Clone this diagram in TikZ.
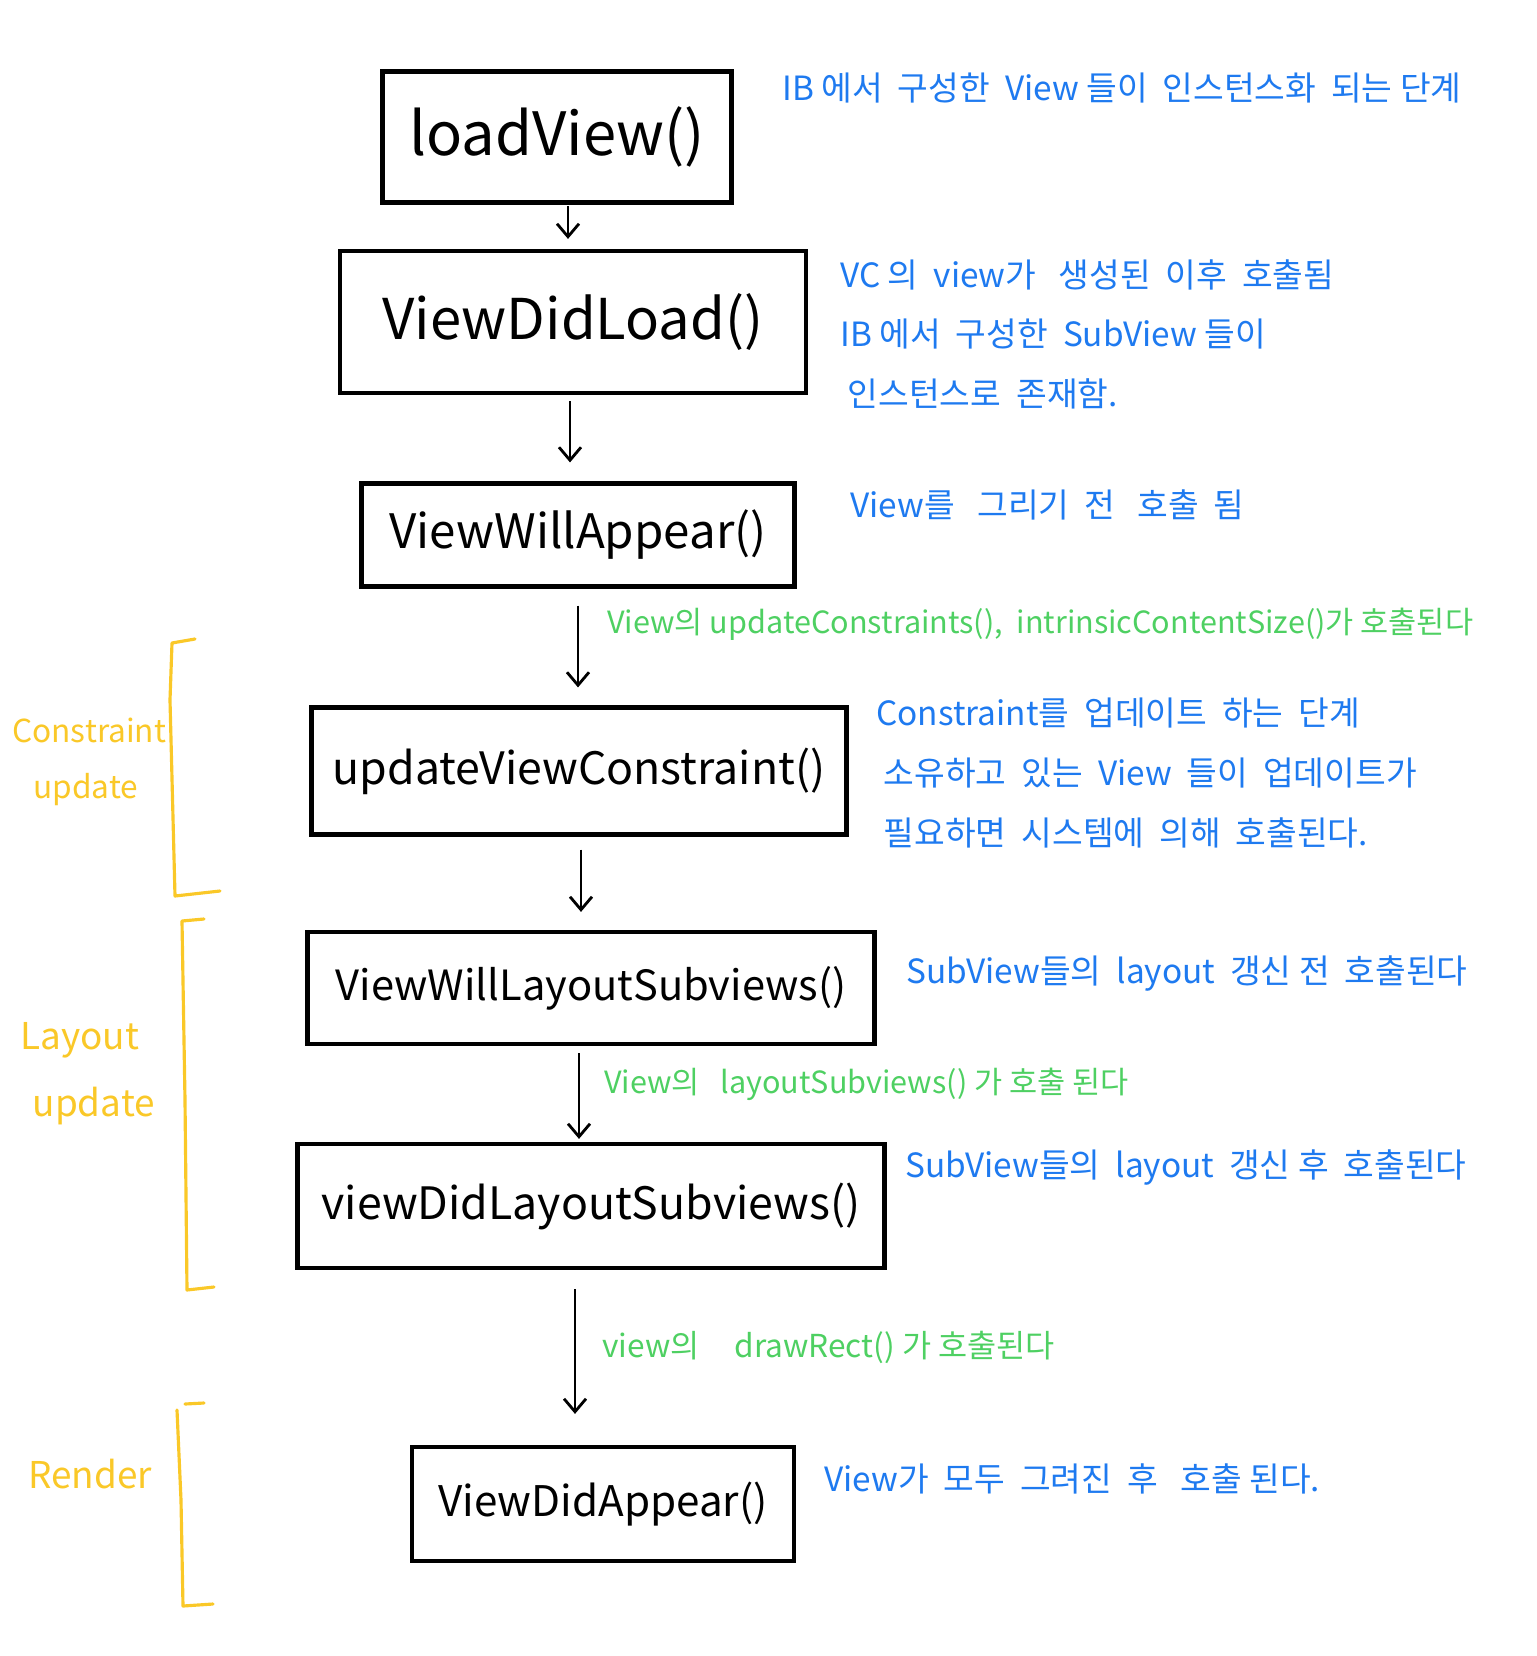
\documentclass[tikz,border=0pt]{standalone}
\usepackage{fontspec}
\setmainfont{Noto Sans CJK KR}
\usetikzlibrary{arrows.meta,calc}
\definecolor{noteblue}{RGB}{30,122,240}
\definecolor{notegreen}{RGB}{78,208,98}
\definecolor{noteyellow}{RGB}{250,200,40}
\tikzset{
  stage/.style={draw=black, line width=2.4pt, inner sep=0pt},
  fs/.style={font=\fontsize{#1}{#1}\selectfont},
  flow/.style={line width=1.6pt, -{Straight Barb[length=2.6mm,width=4.4mm,line width=1.6pt]}},
  bluenote/.style={text=noteblue, anchor=west, inner sep=0pt, font=\fontsize{19}{34}\selectfont, align=left},
  greennote/.style={text=notegreen, anchor=west, inner sep=0pt, font=\fontsize{17.4}{22}\selectfont},
  phase/.style={text=noteyellow, anchor=west, inner sep=0pt, font=\fontsize{21}{30}\selectfont, align=left},
  bracket/.style={draw=noteyellow, line width=1.8pt, line cap=round, line join=round}
}
\begin{document}
\begin{tikzpicture}[x=0.02cm,y=-0.02cm]
\path[use as bounding box, fill=white] (0,0) rectangle (1536,1656);

% stage boxes
\node[stage, fs=34, minimum width=349*0.02cm, minimum height=131*0.02cm] (b1) at (557,137) {loadView()};
\node[stage, fs=32, minimum width=466*0.02cm, minimum height=142*0.02cm] (b2) at (573,322) {ViewDidLoad()};
\node[stage, fs=27, minimum width=433*0.02cm, minimum height=103*0.02cm] (b3) at (578,535) {ViewWillAppear()};
\node[stage, fs=25.4, minimum width=535*0.02cm, minimum height=127*0.02cm] (b4) at (579,771) {updateViewConstraint()};
\node[stage, fs=23.7, minimum width=567*0.02cm, minimum height=112*0.02cm] (b5) at (591,988) {ViewWillLayoutSubviews()};
\node[stage, fs=25.4, minimum width=587*0.02cm, minimum height=124*0.02cm] (b6) at (591,1206) {viewDidLayoutSubviews()};
\node[stage, fs=24, minimum width=382*0.02cm, minimum height=114*0.02cm] (b7) at (603,1504) {ViewDidAppear()};

% connectors
\draw[flow, shorten <=1pt, shorten >=0.2cm] ([xshift=0.22cm]b1.south) -- ([xshift=0.22cm]b1.south |- b2.north);
\draw[flow, shorten <=0.12cm, shorten >=0.38cm] ([xshift=-0.06cm]b2.south) -- ([xshift=-0.06cm]b2.south |- b3.north);
\draw[flow, shorten <=0.34cm, shorten >=0.36cm] ([xshift=0cm]b3.south) -- ([xshift=0cm]b3.south |- b4.north);
\draw[flow, shorten <=0.26cm, shorten >=0.36cm] ([xshift=0.04cm]b4.south) -- ([xshift=0.04cm]b4.south |- b5.north);
\draw[flow, shorten <=0.14cm, shorten >=0.06cm] ([xshift=-0.24cm]b5.south) -- ([xshift=-0.24cm]b5.south |- b6.north);
\draw[flow, shorten <=0.38cm, shorten >=0.62cm] ([xshift=-0.32cm]b6.south) -- ([xshift=-0.32cm]b6.south |- b7.north);

% blue notes
\node[bluenote] (n1) at (782,88) {IB 에서\ \ 구성한\ \ View 들이\ \ 인스턴스화\ \ 되는 단계};
\node[bluenote, anchor=north west] (n2) at (840,259) {VC 의\ \ view가\ \ \ 생성된\ \ 이후\ \ 호출됨\\IB 에서\ \ 구성한\ \ SubView 들이\\\ 인스턴스로\ \ 존재함.};
\node[bluenote] (n3) at (850,505) {View를\ \ \ 그리기\ \ 전\ \ \ 호출\ \ 됨};
\node[bluenote, anchor=north west] (n4) at (876,698) {Constraint를\ \ 업데이트\ \ 하는\ \ 단계\\\ 소유하고\ \ 있는\ \ View\ \ 들이\ \ 업데이트가\\\ 필요하면\ \ 시스템에\ \ 의해\ \ 호출된다.};
\node[bluenote] (n5) at (906,974) {SubView들의\ \ layout\ \ 갱신 전\ \ 호출된다};
\node[bluenote] (n6) at (905,1168) {SubView들의\ \ layout\ \ 갱신 후\ \ 호출된다};
\node[bluenote] (n7) at (824,1479) {View가\ \ 모두\ \ 그려진\ \ 후\ \ \ 호출 된다.};

% green notes
\node[greennote] (g1) at (607,624) {View의\ updateConstraints(),\ \ intrinsicContentSize()가 호출된다};
\node[greennote] (g2) at (604,1084) {View의\ \ \ layoutSubviews() 가 호출 된다};
\node[greennote, fs=18] (g3) at (602,1347) {view의\hspace{1.1em}drawRect()\ 가\ 호출된다};

% phase brackets
\draw[bracket] (195,639) -- (172,643) -- (170,700) -- (175,896) -- (220,891);
\draw[bracket] (204,919) -- (182,921) -- (185,1100) -- (187,1290) -- (214,1287);
\draw[bracket] (185,1404) -- (204,1403);
\draw[bracket] (177,1410) -- (181,1500) -- (183,1606) -- (213,1604);

\node[phase, fs=18, align=left, text width=4cm] (p1) at (12,762) {Constraint\\[14pt]\ \ update};
\node[phase, align=left, text width=4cm] (p2) at (20,1074) {Layout\\[8pt]\ update};
\node[phase] (p3) at (28,1474) {Render};
\end{tikzpicture}
\end{document}
